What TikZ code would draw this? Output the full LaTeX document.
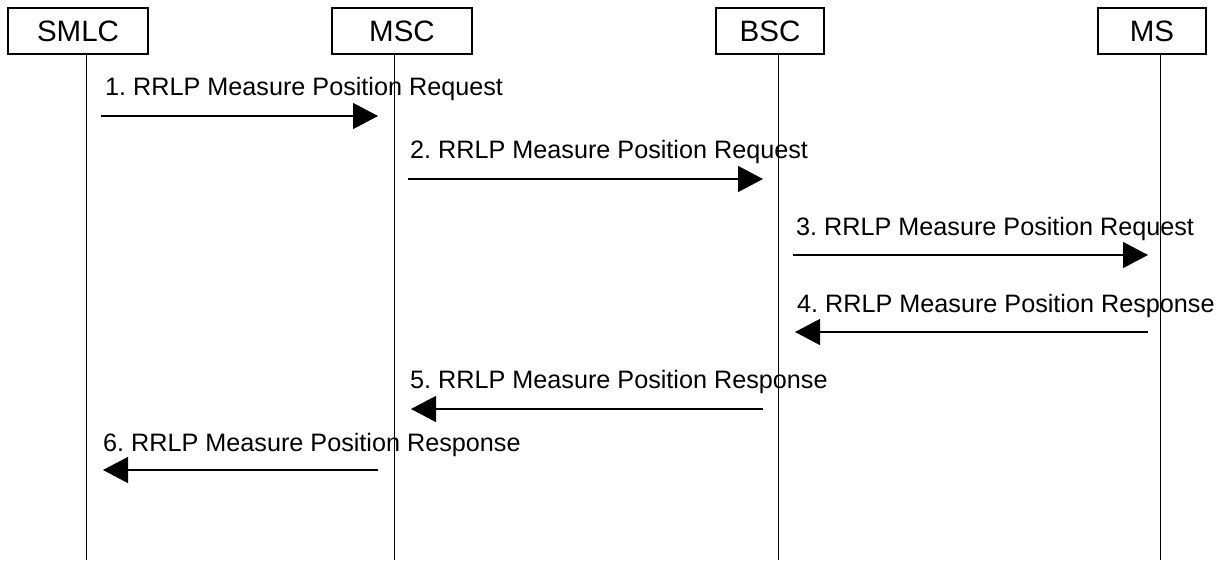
\documentclass[tikz,border=0pt]{standalone}
\usepackage{fontspec}
\setmainfont{Liberation Sans}
\usetikzlibrary{arrows.meta}
\begin{document}
\frenchspacing
\begin{tikzpicture}[x=1pt,y=-1pt,
  entity/.style={draw,line width=1.2pt,minimum height=46pt,inner sep=0pt,font=\fontsize{29.5}{32}\selectfont},
  life/.style={line width=1pt},
  msg/.style={line width=1.3pt,-{Triangle[length=25pt,width=26pt]}},
  lbl/.style={anchor=base west,inner sep=0pt,font=\fontsize{25.2}{28}\selectfont}]
\useasboundingbox (0,0) rectangle (1227,560);
\node[entity,minimum width=140pt] (smlc) at (78,31) {SMLC};
\node[entity,minimum width=140pt] (msc) at (402,31) {MSC};
\node[entity,minimum width=108pt] (bsc) at (770,31) {BSC};
\node[entity,minimum width=108pt] (ms) at (1152,31) {MS};
% lifelines
\coordinate (smlcTop) at (86,54); \coordinate (smlcBot) at (86,560);
\coordinate (mscTop) at (394,54); \coordinate (mscBot) at (394,560);
\coordinate (bscTop) at (778,54); \coordinate (bscBot) at (778,560);
\coordinate (msTop) at (1160,54); \coordinate (msBot) at (1160,560);
\draw[life] (smlcTop) -- (smlcBot);
\draw[life] (mscTop) -- (mscBot);
\draw[life] (bscTop) -- (bscBot);
\draw[life] (msTop) -- (msBot);
% messages
\coordinate (a1s) at (101,116); \coordinate (a1e) at (378,116);
\coordinate (a2s) at (408,179); \coordinate (a2e) at (763,179);
\coordinate (a3s) at (793,255); \coordinate (a3e) at (1148,255);
\coordinate (a4s) at (1148,332); \coordinate (a4e) at (795,332);
\coordinate (a5s) at (763,409); \coordinate (a5e) at (411,409);
\coordinate (a6s) at (378,470); \coordinate (a6e) at (103,470);
\draw[msg] (a1s) -- (a1e);
\draw[msg] (a2s) -- (a2e);
\draw[msg] (a3s) -- (a3e);
\draw[msg] (a4s) -- (a4e);
\draw[msg] (a5s) -- (a5e);
\draw[msg] (a6s) -- (a6e);
\node[lbl] (l1) at (105,95) {1. RRLP Measure Position Request};
\node[lbl] (l2) at (410,158) {2. RRLP Measure Position Request};
\node[lbl] (l3) at (796,235) {3. RRLP Measure Position Request};
\node[lbl] (l4) at (797,312) {4. RRLP Measure Position Response};
\node[lbl] (l5) at (410,388) {5. RRLP Measure Position Response};
\node[lbl] (l6) at (103,451) {6. RRLP Measure Position Response};
\end{tikzpicture}
\end{document}
